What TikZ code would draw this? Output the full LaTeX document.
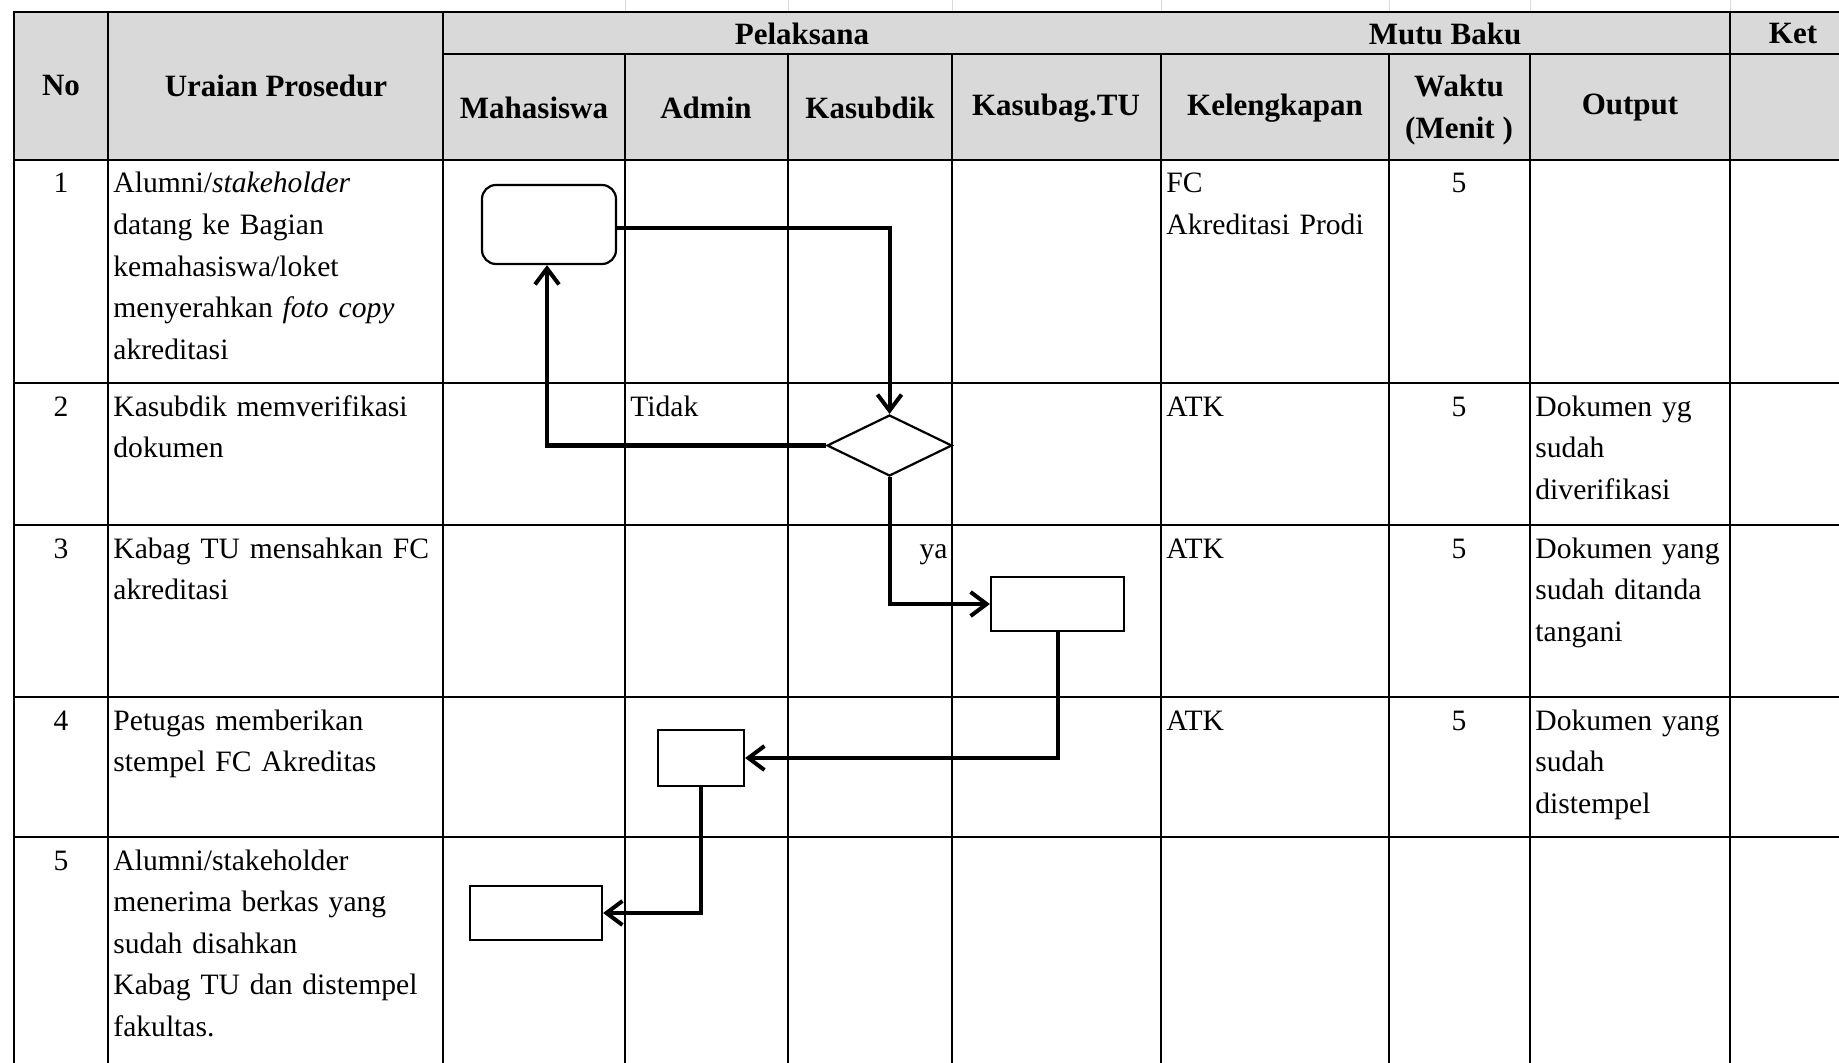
\documentclass[tikz,border=0pt]{standalone}
\usepackage{fontspec}
\setmainfont{Liberation Serif}
\usetikzlibrary{shapes.geometric,arrows.meta}
\definecolor{hdrgray}{HTML}{D9D9D9}
\tikzset{
  hline/.style={line width=1.4pt, line cap=rect},
  bline/.style={line width=1pt},
  hdr/.style={font=\fontsize{15.5}{21}\selectfont\bfseries, align=center, inner sep=0pt},
  cell/.style={font=\fontsize{14.8}{20.8}\selectfont, anchor=base west, align=left, inner sep=0pt, text width=330pt},
  num/.style={font=\fontsize{14.8}{20.8}\selectfont, anchor=base, inner sep=0pt},
  procbox/.style={draw, line width=1.1pt, fill=white, inner sep=0pt},
  startbox/.style={procbox, rounded corners=7pt, minimum width=67pt, minimum height=39.5pt},
  decbox/.style={draw, diamond, line width=1.1pt, fill=white, inner sep=0pt, minimum width=62.5pt, minimum height=30.5pt},
  flow/.style={line width=2pt, -{Straight Barb[length=8pt,width=12pt]}}
}
\begin{document}
\begin{tikzpicture}[x=0.5pt,y=-0.5pt]
\fill[white] (0,0) rectangle (1839,1063);
\useasboundingbox (0,0) rectangle (1839,1063);
% header background
\fill[hdrgray] (14,12) rectangle (1839,160);
% faint sheet gridlines above the table
\foreach \x in {625,788,952,1161,1389,1530,1730}
  \draw[black!15, line width=0.5pt] (\x,0) -- (\x,12);
% body grid
\foreach \y in {383,525,697,837}
  \draw[bline] (14,\y) -- (1839,\y);
\foreach \x in {14,108,443,625,788,952,1161,1389,1530,1730}
  \draw[bline] (\x,160) -- (\x,1063);
% header grid
\draw[hline] (14,12) -- (1839,12);
\draw[hline] (443,54) -- (1839,54);
\draw[hline] (14,160) -- (1839,160);
\foreach \x in {14,108,443,1730}
  \draw[hline] (\x,12) -- (\x,160);
\foreach \x in {625,788,952,1161,1389,1530}
  \draw[hline] (\x,54) -- (\x,160);
% header texts
\node[hdr] (hNo) at (61,86) {No};
\node[hdr] (hUr) at (276,86) {Uraian Prosedur};
\node[hdr] (hPel) at (802,34) {Pelaksana};
\node[hdr] (hMutu) at (1445,34) {Mutu Baku};
\node[hdr] (hKet) at (1793,34) {Ket};
\node[hdr] (hMhs) at (534,108) {Mahasiswa};
\node[hdr] (hAdm) at (706,108) {Admin};
\node[hdr] (hKsd) at (870,108) {Kasubdik};
\node[hdr] (hKtu) at (1056,108) {Kasubag.TU};
\node[hdr] (hKel) at (1275,108) {Kelengkapan};
\node[hdr] (hWkt) at (1459,86) {Waktu};
\node[hdr] (hMnt) at (1459,131) {(Menit )};
\node[hdr] (hOut) at (1630,108) {Output};
% row numbers
\node[num] (n1) at (61,193) {1};
\node[num] (n2) at (61,416) {2};
\node[num] (n3) at (61,558) {3};
\node[num] (n4) at (61,730) {4};
\node[num] (n5) at (61,870) {5};
% procedure texts
\node[cell] (u1) at (113,193) {Alumni/\textit{stakeholder}\\datang ke Bagian\\kemahasiswa/loket\\menyerahkan \textit{foto copy}\\akreditasi};
\node[cell] (u2) at (113,416) {Kasubdik memverifikasi\\dokumen};
\node[cell] (u3) at (113,558) {Kabag TU mensahkan FC\\akreditasi};
\node[cell] (u4) at (113,730) {Petugas memberikan\\stempel FC Akreditas};
\node[cell] (u5) at (113,870) {Alumni/stakeholder\\menerima berkas yang\\sudah disahkan\\Kabag TU dan distempel\\fakultas.};
% kelengkapan
\node[cell] (k1) at (1166,193) {FC\\Akreditasi Prodi};
\node[cell] (k2) at (1166,416) {ATK};
\node[cell] (k3) at (1166,558) {ATK};
\node[cell] (k4) at (1166,730) {ATK};
% waktu
\node[num] (w1) at (1459,193) {5};
\node[num] (w2) at (1459,416) {5};
\node[num] (w3) at (1459,558) {5};
\node[num] (w4) at (1459,730) {5};
% output
\node[cell] (o2) at (1535,416) {Dokumen yg\\sudah\\diverifikasi};
\node[cell] (o3) at (1535,558) {Dokumen yang\\sudah ditanda\\tangani};
\node[cell] (o4) at (1535,730) {Dokumen yang\\sudah\\distempel};
% labels
\node[cell] (tidak) at (630,416) {Tidak};
\node[num, anchor=base east] (ya) at (948,558) {ya};
% flowchart shapes
\node[startbox] (start) at (549,224.5) {};
\node[decbox] (dec) at (889.5,445.5) {};
\node[procbox, minimum width=66.5pt, minimum height=27pt] (r3) at (1057.5,604) {};
\node[procbox, minimum width=43pt, minimum height=28pt] (r4) at (701,758) {};
\node[procbox, minimum width=66pt, minimum height=27pt] (r5) at (536,913) {};
% connectors
\draw[flow] ([yshift=-2pt]start.east) -| (dec.north);
\draw[flow] (dec.west) -| ([xshift=-1pt]start.south);
\draw[flow] (dec.south) |- (r3.west);
\draw[flow] (r3.south) |- (r4.east);
\draw[flow] (r4.south) |- (r5.east);
\end{tikzpicture}
\end{document}
